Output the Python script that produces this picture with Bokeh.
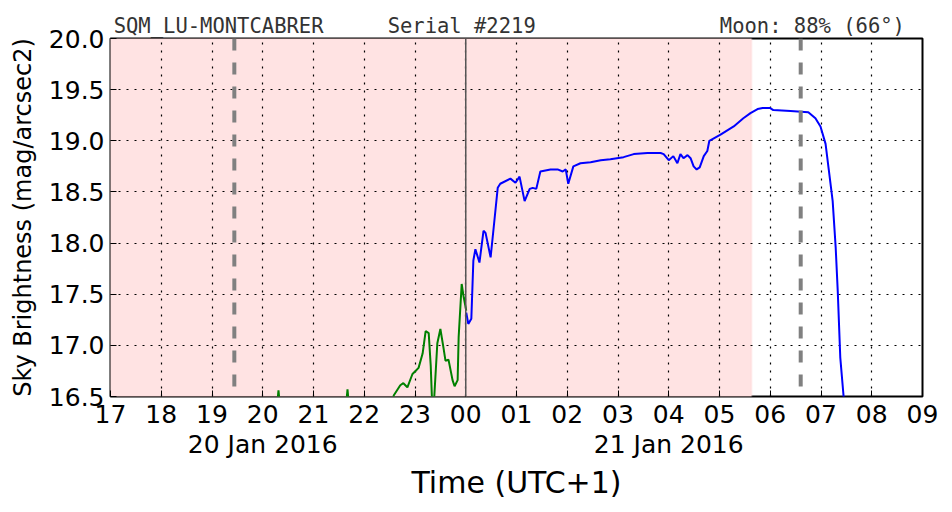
from bokeh.plotting import figure
from bokeh.models import FixedTicker, LinearAxis, Span, BoxAnnotation, Range1d
from bokeh.embed import file_html
from bokeh.resources import INLINE

nan = float("nan")

# hours counted from 20 Jan 2016 00:00 (UTC+1)
green_h = [20.28, 20.31, 20.34, nan,
           21.64, 21.67, 21.70, nan,
           22.56, 22.58, 22.71, 22.77, 22.85, 22.95, 23.01, 23.07, 23.15, 23.21, 23.27,
           23.31, 23.34, 23.38, 23.44, 23.50, 23.56, 23.60, 23.66, 23.74, 23.78, 23.84,
           23.86, 23.92, 23.96, 24.01]
green_m = [16.40, 16.56, 16.40, nan,
           16.40, 16.57, 16.40, nan,
           16.40, 16.51, 16.61, 16.63, 16.59, 16.72, 16.75, 16.78, 16.92, 17.14, 17.12,
           16.80, 16.40, 16.50, 17.02, 17.16, 16.98, 16.85, 16.86, 16.66, 16.60, 16.66,
           17.08, 17.60, 17.47, 17.34]

blue_h = [24.01, 24.05, 24.11, 24.15, 24.19, 24.27, 24.35, 24.39, 24.49, 24.55, 24.63,
          24.68, 24.88, 24.98, 25.06, 25.16, 25.26, 25.32, 25.39, 25.47, 25.57, 25.67,
          25.81, 25.91, 25.97, 26.02, 26.12, 26.26, 26.46, 26.66, 26.85, 27.11, 27.31,
          27.58, 27.84, 27.90, 28.00, 28.09, 28.17, 28.23, 28.29, 28.37, 28.43, 28.49,
          28.55, 28.61, 28.69, 28.76, 28.80, 29.02, 29.28, 29.47, 29.61, 29.75, 29.85,
          30.00, 30.06, 30.40, 30.75, 30.89, 30.99, 31.09, 31.15, 31.23, 31.29, 31.33,
          31.38, 31.44, 31.48]
blue_m = [17.32, 17.21, 17.26, 17.83, 17.94, 17.81, 18.12, 18.10, 17.86, 18.15, 18.54,
          18.58, 18.63, 18.59, 18.65, 18.41, 18.53, 18.54, 18.53, 18.70, 18.71, 18.72,
          18.72, 18.70, 18.72, 18.58, 18.75, 18.78, 18.79, 18.81, 18.82, 18.84, 18.87,
          18.88, 18.88, 18.87, 18.81, 18.85, 18.78, 18.87, 18.83, 18.86, 18.83, 18.75,
          18.72, 18.74, 18.85, 18.90, 19.00, 19.06, 19.14, 19.22, 19.27, 19.31, 19.32,
          19.32, 19.30, 19.29, 19.28, 19.22, 19.14, 18.97, 18.73, 18.41, 17.95, 17.53,
          16.88, 16.53, 16.30]

hour_ticks = list(range(17, 34))
hour_labels = ["%02d" % (h % 24) for h in hour_ticks]
y_ticks = [16.5, 17.0, 17.5, 18.0, 18.5, 19.0, 19.5, 20.0]
date_ticks = [20, 28]
date_labels = ["20 Jan 2016", "21 Jan 2016"]

night_start, night_end = 16.0, 29.63
sunset_h, sunrise_h = 19.44, 30.60
midnight_h = 24.0

header_pos = [19.13, 23.92, 30.83]
header_texts = ["SQM_LU-MONTCABRER", "Serial #2219", "Moon: 88% (66°)"]

FONT = "DejaVu Sans"

p = figure(width=952, height=512, output_backend="svg", toolbar_location=None,
           x_range=Range1d(17, 33), y_range=Range1d(16.5, 20.0),
           min_border_left=110, min_border_right=30, min_border_top=38,
           min_border_bottom=116, x_axis_location=None)
p.background_fill_color = "white"
p.border_fill_color = "white"
p.outline_line_color = "black"
p.outline_line_width = 2

# night shading
p.add_layout(BoxAnnotation(left=night_start, right=night_end, fill_color="#ffe3e3",
                           fill_alpha=1.0, line_color="#ffcccc", line_width=2,
                           level="image"))

# x axes
xa = LinearAxis(ticker=FixedTicker(ticks=hour_ticks),
                major_label_overrides={h: l for h, l in zip(hour_ticks, hour_labels)})
xa.major_label_text_font = FONT
xa.major_label_text_font_size = "25px"
xa.major_label_text_color = "black"
xa.major_label_standoff = 8
xa.major_tick_in = 6
xa.major_tick_out = 0
xa.minor_tick_line_color = None
xa.axis_line_color = None
xa.major_tick_line_color = "black"
p.add_layout(xa, "below")

xd = LinearAxis(ticker=FixedTicker(ticks=date_ticks),
                major_label_overrides={h: l for h, l in zip(date_ticks, date_labels)})
xd.major_label_text_font = FONT
xd.major_label_text_font_size = "25px"
xd.major_label_text_color = "black"
xd.major_label_standoff = 4
xd.major_tick_in = 0
xd.major_tick_out = 0
xd.minor_tick_line_color = None
xd.axis_line_color = None
xd.major_tick_line_color = None
xd.axis_label = "Time (UTC+1)"
xd.axis_label_text_font = FONT
xd.axis_label_text_font_size = "30px"
xd.axis_label_text_color = "black"
xd.axis_label_text_font_style = "normal"
xd.axis_label_standoff = 3
p.add_layout(xd, "below")

# header texts as a label-only top axis
xt = LinearAxis(ticker=FixedTicker(ticks=header_pos),
                major_label_overrides={h: t for h, t in zip(header_pos, header_texts)})
xt.major_label_text_font = "DejaVu Sans Mono"
xt.major_label_text_font_size = "20.5px"
xt.major_label_text_color = "#333333"
xt.major_label_standoff = 1
xt.major_tick_in = 0
xt.major_tick_out = 0
xt.minor_tick_line_color = None
xt.axis_line_color = None
xt.major_tick_line_color = None
p.add_layout(xt, "above")

ya = p.yaxis[0]
ya.ticker = FixedTicker(ticks=y_ticks)
ya.major_label_overrides = {t: "%.1f" % t for t in y_ticks}
ya.major_label_text_font = FONT
ya.major_label_text_font_size = "25px"
ya.major_label_text_color = "black"
ya.major_label_standoff = 6
ya.major_tick_in = 6
ya.major_tick_out = 0
ya.minor_tick_line_color = None
ya.axis_line_color = None
ya.axis_label = "Sky Brightness (mag/arcsec2)"
ya.axis_label_text_font = FONT
ya.axis_label_text_font_size = "24px"
ya.axis_label_text_color = "black"
ya.axis_label_text_font_style = "normal"
ya.axis_label_standoff = 9

# grid
p.xgrid.ticker = FixedTicker(ticks=hour_ticks)
p.ygrid.ticker = FixedTicker(ticks=y_ticks)
for g in (p.xgrid[0], p.ygrid[0]):
    g.grid_line_color = "black"
    g.grid_line_dash = "2 6"
    g.grid_line_width = 1.2

# data
p.line(green_h, green_m, line_color="#008000", line_width=2)
p.line(blue_h, blue_m, line_color="#0000ff", line_width=2)

# vertical markers
p.add_layout(Span(location=midnight_h, dimension="height", line_color="#555555",
                  line_width=1.5))
for loc in (sunset_h, sunrise_h):
    p.add_layout(Span(location=loc, dimension="height", line_color="#808080",
                      line_width=4, line_dash="12 12"))

open("out.html", "w").write(file_html(p, INLINE))
